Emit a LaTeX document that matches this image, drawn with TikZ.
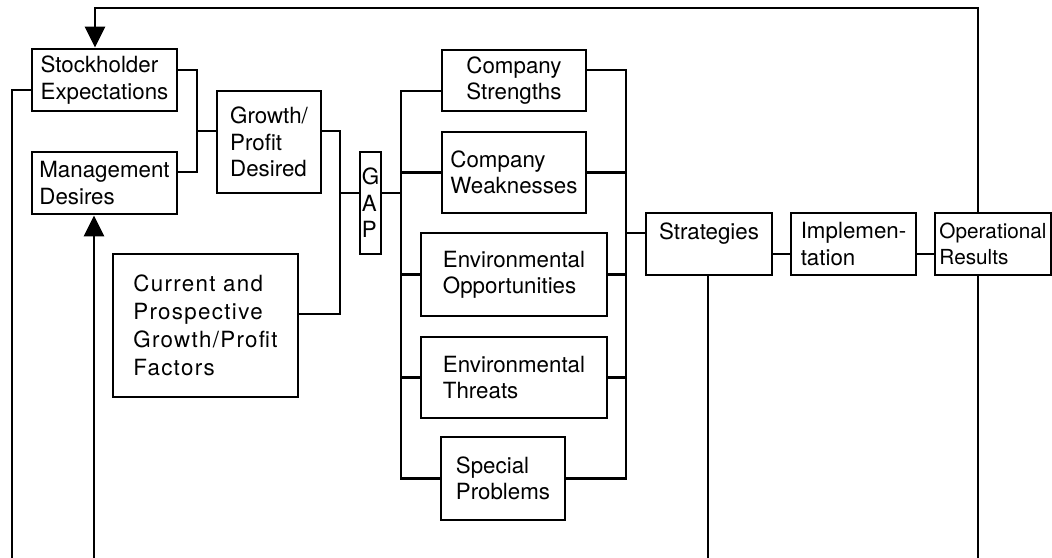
\documentclass[tikz,border=0pt]{standalone}
\usepackage{fontspec}
\setmainfont{TeX Gyre Heros}
\usetikzlibrary{arrows.meta}

\begin{document}
\begin{tikzpicture}[x=0.02cm,y=-0.02cm,line width=1.6pt,
        box/.style={draw,inner sep=0pt,align=left,font=\fontsize{12.7}{15}\selectfont},
        sz/.style 2 args={minimum width=#1*0.02cm,minimum height=#2*0.02cm},
        tip/.style={-{Triangle[length=0.42cm,width=0.4cm]}}]
        \useasboundingbox (0,0) rectangle (1052,558);
        \node[box,sz={145}{62}] (stock) at (104.5,80) {Stockholder\\Expectations};
        \node[box,sz={145}{62}] (mgmt) at (104.5,183) {Management\\Desires};
        \node[box,sz={104}{102}] (growth) at (269,142) {Growth/\\Profit\\Desired};
        \node[box,sz={21}{102}] (gap) at (370.5,203) {G\\A\\P};
        \node[box,sz={185}{143},font=\fontsize{12.7}{16}\selectfont\addfontfeatures{LetterSpace=6}] (current) at (205.5,325.5) {Current and\\Prospective\\Growth/Profit\\Factors};
        \node[box,sz={144}{61}] (strength) at (514,80.5) {Company\\Strengths};
        \node[box,sz={144}{81}] (weak) at (514,172.5) {Company\\Weaknesses};
        \node[box,sz={186}{83}] (opport) at (514,274.5) {Environmental\\Opportunities};
        \node[box,sz={186}{81}] (threat) at (514,377.5) {Environmental\\Threats};
        \node[box,sz={124}{83}] (special) at (503,478.5) {Special\\Problems};
        \node[box,sz={126}{62}] (strat) at (709,244) {Strategies\\\mbox{}};
        \node[box,sz={125}{62}] (impl) at (853.5,244) {Implemen-\\tation};
        \node[box,sz={116}{62},font=\fontsize{11.8}{15}\selectfont] (oper) at (993,244) {Operational\\Results};

        \coordinate (jIn) at (197,131);
        \draw (stock.east |- 0,70) -| (jIn) |- (mgmt.east |- 0,172);
        \draw (jIn) -- (growth.west |- jIn);
        \coordinate (jGap) at (340,193);
        \draw (growth.east |- 0,131) -| (jGap) |- (current.east |- 0,314);
        \draw (jGap) -- (gap.west |- jGap);

        \coordinate (jL) at (401,193);
        \draw (gap.east |- jL) -- (jL);
        \draw (strength.west |- 0,91) -| (jL) |- (special.west);
        \coordinate (jR) at (626,233);
        \draw (strength.east |- 0,70) -| (jR) |- (special.east);
        \foreach \b in {weak,opport,threat} {
            \draw (\b.west) -- (\b.west -| jL);
            \draw (\b.east) -- (\b.east -| jR);
        }
        \draw (jR) -- (strat.west |- jR);
        \draw (strat.east |- 0,254) -- (impl.west |- 0,254);
        \draw (impl.east |- 0,254) -- (oper.west |- 0,254);

        \coordinate (fbR) at (978,8);
        \coordinate (fbL) at (95,8);
        \draw[tip] (oper.north -| fbR) -- (fbR) -- (fbL) -- (stock.north -| fbL);
        \coordinate (outS) at (708,558);
        \coordinate (outO) at (978,558);
        \coordinate (inL) at (12,558);
        \coordinate (inM) at (94,558);
        \draw (strat.south -| outS) -- (outS);
        \draw (oper.south -| outO) -- (outO);
        \draw (inL) |- (stock.west |- 0,90);
        \draw[tip] (inM) -- (mgmt.south -| inM);
    \end{tikzpicture}
\end{document}
